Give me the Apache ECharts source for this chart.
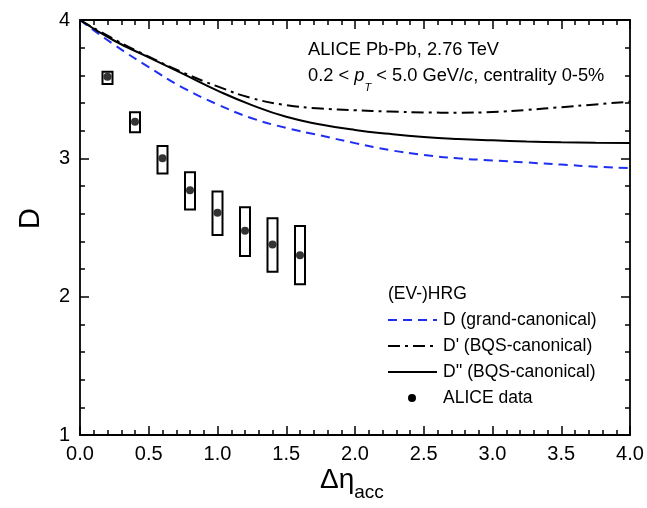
<!DOCTYPE html>
<html>
<head>
<meta charset="utf-8">
<script src="https://cdn.jsdelivr.net/npm/echarts@6/dist/echarts.min.js"></script>
<style>html,body{margin:0;padding:0;background:#fff}#c{width:647px;height:508px}</style>
</head>
<body>
<div id="c"></div>
<script>
// x grid for model curves
const etaGrid = [0, 0.25, 0.5, 0.75, 1.0, 1.25, 1.5, 1.75, 2.0, 2.25, 2.5, 2.75, 3.0, 3.25, 3.5, 3.75, 4.0];
const dGrand = [4.0, 3.82, 3.66, 3.51, 3.39, 3.29, 3.22, 3.165, 3.11, 3.06, 3.025, 3.0, 2.985, 2.97, 2.955, 2.94, 2.93];
const dPrime = [4.0, 3.86, 3.735, 3.62, 3.52, 3.435, 3.385, 3.36, 3.348, 3.338, 3.332, 3.33, 3.335, 3.35, 3.37, 3.39, 3.41];
const dDouble = [4.0, 3.85, 3.73, 3.61, 3.49, 3.385, 3.30, 3.245, 3.205, 3.177, 3.155, 3.14, 3.13, 3.122, 3.116, 3.112, 3.11];
// ALICE data
const aliceEta = [0.2, 0.4, 0.6, 0.8, 1.0, 1.2, 1.4, 1.6];
const aliceD = [3.59, 3.265, 3.00, 2.77, 2.607, 2.477, 2.378, 2.30];
const aliceLo = [3.537, 3.188, 2.89, 2.63, 2.445, 2.294, 2.18, 2.09];
const aliceHi = [3.626, 3.333, 3.09, 2.90, 2.76, 2.646, 2.566, 2.51];
const xTicks = ['0.0', '0.5', '1.0', '1.5', '2.0', '2.5', '3.0', '3.5', '4.0'];
const yTicks = ['1', '2', '3', '4'];

const FONT = 'Liberation Sans, Arial, Helvetica, sans-serif';
const BLUE = '#1f2ff0';
const pair = (xs, ys) => xs.map((x, i) => [x, ys[i]]);

const chart = echarts.init(document.getElementById('c'));
const tickStyle = {color: '#000', width: 1.5};
const baseX = {
  type: 'value', min: 0, max: 4, interval: 0.5,
  axisLine: {show: true, onZero: false, lineStyle: {color: '#000', width: 1.8}},
  axisTick: {show: true, inside: true, length: 9, lineStyle: tickStyle},
  minorTick: {show: true, splitNumber: 5, length: 5, lineStyle: tickStyle},
  splitLine: {show: false}, minorSplitLine: {show: false}
};
const baseY = {
  type: 'value', min: 1, max: 4, interval: 1,
  axisLine: {show: true, onZero: false, lineStyle: {color: '#000', width: 1.8}},
  axisTick: {show: true, inside: true, length: 9, lineStyle: tickStyle},
  minorTick: {show: true, splitNumber: 5, length: 5, lineStyle: tickStyle},
  splitLine: {show: false}, minorSplitLine: {show: false}
};

// legend drawn as graphic elements
const legX0 = 388, legX1 = 437, legTx = 443;
const legRows = [
  {y: 320, text: 'D (grand-canonical)', stroke: BLUE, dash: [9, 6]},
  {y: 346, text: "D' (BQS-canonical)", stroke: '#000', dash: [12, 5, 3, 5]},
  {y: 372, text: "D'' (BQS-canonical)", stroke: '#000', dash: null}
];
const legendGraphic = [];
legRows.forEach(r => {
  legendGraphic.push({type: 'line', shape: {x1: legX0, y1: r.y, x2: legX1, y2: r.y},
    style: {stroke: r.stroke, lineWidth: 2, lineDash: r.dash}, z: 10});
  legendGraphic.push({type: 'text', x: legTx, y: r.y,
    style: {text: r.text, fontSize: 17.5, fontFamily: FONT, fill: '#000', textVerticalAlign: 'middle', verticalAlign: 'middle'}, z: 10});
});
legendGraphic.push({type: 'circle', shape: {cx: 412, cy: 398, r: 4}, style: {fill: '#000'}, z: 10});
legendGraphic.push({type: 'text', x: legTx, y: 398,
  style: {text: 'ALICE data', fontSize: 17.5, fontFamily: FONT, fill: '#000', textVerticalAlign: 'middle', verticalAlign: 'middle'}, z: 10});
legendGraphic.push({type: 'text', x: 388, y: 294,
  style: {text: '(EV-)HRG', fontSize: 17.5, fontFamily: FONT, fill: '#000', textVerticalAlign: 'middle', verticalAlign: 'middle'}, z: 10});

chart.setOption({
  animation: false,
  backgroundColor: '#fff',
  grid: {left: 80, right: 17, top: 20, bottom: 73},
  xAxis: [
    Object.assign({}, baseX, {position: 'bottom',
      axisLabel: {color: '#000', fontSize: 20, fontFamily: FONT, margin: 9,
        formatter: v => xTicks[Math.round(v / 0.5)]}}),
    Object.assign({}, baseX, {position: 'top', axisLabel: {show: false}})
  ],
  yAxis: [
    Object.assign({}, baseY, {position: 'left',
      axisLabel: {color: '#000', fontSize: 20, fontFamily: FONT, margin: 10,
        formatter: v => yTicks[Math.round(v) - 1]}}),
    Object.assign({}, baseY, {position: 'right', axisLabel: {show: false}})
  ],
  graphic: [
    {type: 'text', left: 16, top: 208, rotation: Math.PI / 2,
      style: {text: 'D', fontSize: 29, fontFamily: FONT, fill: '#000'}},
    {type: 'text', left: 320, top: 466,
      style: {text: '{a|Δη}{b|acc}', fontFamily: FONT, fill: '#000',
        rich: {a: {fontSize: 28, fontFamily: FONT, verticalAlign: 'bottom'},
               b: {fontSize: 19, fontFamily: FONT, verticalAlign: 'bottom', padding: [0, 0, -8, 0]}}}},
    {type: 'text', left: 308, top: 41,
      style: {text: 'ALICE Pb-Pb, 2.76 TeV', fontSize: 18.3, fontFamily: FONT, fill: '#000'}},
    {type: 'text', left: 308, top: 67,
      style: {text: '0.2 < {i|p}{s|T} < 5.0 GeV/{i|c}, centrality 0-5%', fontSize: 18.3, fontFamily: FONT, fill: '#000',
        rich: {i: {fontStyle: 'italic', fontSize: 18.3, fontFamily: FONT},
               s: {fontStyle: 'italic', fontSize: 11, fontFamily: FONT, verticalAlign: 'bottom', padding: [0, 0, -8, 0]}}}}
  ].concat(legendGraphic),
  series: [
    {name: 'D (grand-canonical)', type: 'line', smooth: true, symbol: 'none',
      data: pair(etaGrid, dGrand),
      lineStyle: {color: BLUE, width: 2, type: [9, 6]}, z: 3},
    {name: "D' (BQS-canonical)", type: 'line', smooth: true, symbol: 'none',
      data: pair(etaGrid, dPrime),
      lineStyle: {color: '#000', width: 2, type: [12, 5, 3, 5]}, z: 3},
    {name: "D'' (BQS-canonical)", type: 'line', smooth: true, symbol: 'none',
      data: pair(etaGrid, dDouble),
      lineStyle: {color: '#000', width: 2}, z: 3},
    {name: 'ALICE boxes', type: 'custom',
      data: aliceEta.map((x, i) => [x, aliceLo[i], aliceHi[i]]),
      renderItem: function (params, api) {
        const lo = api.coord([api.value(0), api.value(1)]);
        const hi = api.coord([api.value(0), api.value(2)]);
        const hw = 5;
        return {type: 'rect', shape: {x: lo[0] - hw, y: hi[1], width: 2 * hw, height: lo[1] - hi[1]},
          style: {fill: 'none', stroke: '#000', lineWidth: 2}};
      }, z: 4},
    {name: 'ALICE data', type: 'scatter', symbol: 'circle', symbolSize: 8,
      data: pair(aliceEta, aliceD), itemStyle: {color: '#000'}, z: 5}
  ]
});
</script>
</body>
</html>
